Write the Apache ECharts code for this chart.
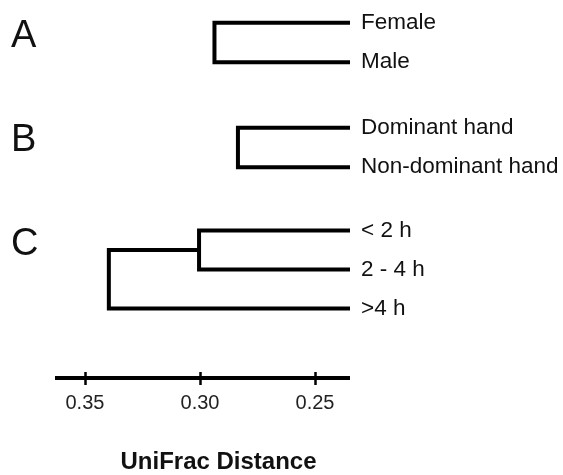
<!DOCTYPE html>
<html>
<head>
<meta charset="utf-8">
<script src="https://cdn.jsdelivr.net/npm/echarts@6/dist/echarts.min.js"></script>
<style>
html,body{margin:0;padding:0;background:#fff;}
#c{width:563px;height:475px;}
</style>
</head>
<body>
<div id="c"></div>
<script>
// ---- data ----
const panelLetters = ['A', 'B', 'C'];
const leavesA = ['Female', 'Male'];
const mergesA = [[0, 1, 0.2937]];
const leavesB = ['Dominant hand', 'Non-dominant hand'];
const mergesB = [[0, 1, 0.2835]];
const leavesC = ['< 2 h', '2 - 4 h', '>4 h'];
const mergesC = [[0, 1, 0.3004], ['m0', 2, 0.3396]];
const tickValues = [0.25, 0.30, 0.35];
const axisName = 'UniFrac Distance';
const xMin = 0.2348, xMax = 0.363;

const panels = [
  { leaves: leavesA, merges: mergesA },
  { leaves: leavesB, merges: mergesB },
  { leaves: leavesC, merges: mergesC }
];

// ---- layout ----
const FONT = 'Liberation Sans, Arial, Helvetica, sans-serif';
const gridsLayout = [
  { left: 55, width: 295, top: 3, height: 79 },
  { left: 55, width: 295, top: 108, height: 79 },
  { left: 55, width: 295, top: 211, height: 118 }
];
const letterY = [38, 142, 246];

const grid = gridsLayout.map(g => Object.assign({ containLabel: false }, g));
const xAxis = [];
const yAxis = [];
const series = [];

panels.forEach((p, gi) => {
  const n = p.leaves.length;
  const isLast = gi === panels.length - 1;
  xAxis.push({
    type: 'value', gridIndex: gi, min: xMin, max: xMax, inverse: true,
    show: isLast, position: 'bottom', offset: 50,
    splitLine: { show: false },
    axisLine: { show: true, onZero: false, lineStyle: { color: '#000', width: 4, cap: 'butt' } },
    axisTick: { show: true, inside: false, length: 7, customValues: tickValues, lineStyle: { color: '#000', width: 2.5 } },
    axisLabel: { show: true, customValues: tickValues, margin: 15, color: '#222', fontSize: 20, fontFamily: FONT,
      formatter: v => Number(v).toFixed(2) },
    name: isLast ? axisName : '', nameLocation: 'middle', nameGap: 72,
    nameTextStyle: { fontWeight: 'bold', fontSize: 24, color: '#111', fontFamily: FONT, padding: [0, 0, 0, 32] }
  });
  yAxis.push({
    type: 'category', gridIndex: gi, data: p.leaves, inverse: true, position: 'right',
    axisLine: { show: false }, axisTick: { show: false }, splitLine: { show: false },
    axisLabel: { margin: 11, color: '#111', fontSize: 22.5, fontFamily: FONT }
  });
  yAxis.push({
    type: 'value', gridIndex: gi, min: -0.5, max: n - 0.5, inverse: true, show: false,
    splitLine: { show: false }
  });
  const pos = {};
  const node = ref => (typeof ref === 'number') ? { x: xMin, y: ref } : pos[ref];
  p.merges.forEach((m, k) => {
    const a = node(m[0]), b = node(m[1]), h = m[2];
    pos['m' + k] = { x: h, y: (a.y + b.y) / 2 };
    series.push({
      type: 'line', xAxisIndex: gi, yAxisIndex: gi * 2 + 1,
      data: [[a.x, a.y], [h, a.y], [h, b.y], [b.x, b.y]],
      showSymbol: false, symbol: 'none', silent: true, animation: false,
      lineStyle: { color: '#000', width: 4, cap: 'butt', join: 'miter' }
    });
  });
});

// extra axis (placed on the 'top' slot, shifted down onto the main axis) for the upward half of the ticks
xAxis.push({
  type: 'value', gridIndex: 2, min: xMin, max: xMax, inverse: true,
  position: 'top', offset: -168,
  splitLine: { show: false }, axisLine: { show: false },
  axisTick: { show: true, inside: false, length: 7, customValues: tickValues, lineStyle: { color: '#000', width: 2.5 } },
  axisLabel: { show: false }
});

const graphic = panelLetters.map((L, i) => ({
  type: 'text', left: 11, top: letterY[i] - 20,
  style: { text: L, fontSize: 38, fontFamily: FONT, fill: '#111', fontWeight: 'normal' }
}));

const chart = echarts.init(document.getElementById('c'), null, { renderer: 'canvas' });
chart.setOption({
  animation: false,
  backgroundColor: '#fff',
  grid, xAxis, yAxis, series, graphic
});
</script>
</body>
</html>
